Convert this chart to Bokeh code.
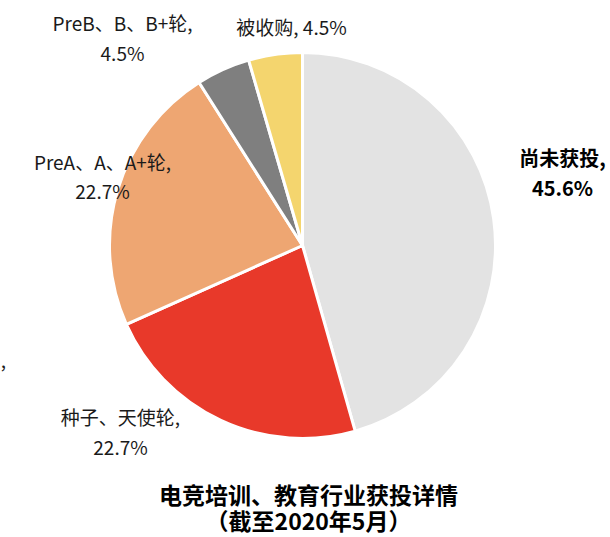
import math
from bokeh.plotting import figure
from bokeh.models import ColumnDataSource, Range1d
from bokeh.core.properties import value
from bokeh.embed import file_html
from bokeh.resources import INLINE

categories = ["尚未获投", "种子、天使轮", "PreA、A、A+轮", "PreB、B、B+轮", "被收购"]
shares = [45.6, 22.7, 22.7, 4.5, 4.5]
colors = ["#E3E3E3", "#E8392A", "#EEA672", "#7F7F7F", "#F4D56E"]
title_lines = ["电竞培训、教育行业获投详情", "（截至2020年5月）"]

W, H = 610, 537
CX, CY, R = 302, 245, 193  # pixel layout (y from top)

total = sum(shares)
starts, ends = [], []
cum = 0.0
for s in shares:
    starts.append(math.pi / 2 - 2 * math.pi * cum / total)
    cum += s
    ends.append(math.pi / 2 - 2 * math.pi * cum / total)

p = figure(width=W, height=H, output_backend="svg", toolbar_location=None,
           x_axis_location=None, y_axis_location=None, min_border=0,
           x_range=Range1d(0, W), y_range=Range1d(0, H))
p.outline_line_color = None
p.grid.visible = False
p.background_fill_color = "white"
p.border_fill_color = "white"

src = ColumnDataSource(dict(cat=categories, val=shares, color=colors,
                            start=starts, end=ends))
p.wedge(x=CX, y=H - CY, radius=R, start_angle="start", end_angle="end",
        direction="clock", fill_color="color", line_color="white",
        line_width=3, source=src)

font = value("Noto Sans CJK SC")

def label(lines, x, y, size="19px", bold=False, gap=29):
    for i, t in enumerate(lines):
        p.text(x=[x], y=[H - (y + i * gap)], text=[t], text_font=font,
               text_font_size=size, text_align="center", text_baseline="middle",
               text_color="#1a1a1a" if not bold else "#000000",
               text_font_style="bold" if bold else "normal")

pct = [f"{v:.1f}%" for v in shares]
label([categories[0] + ",", pct[0]], 562, 157, size="20px", bold=True, gap=30)
label([categories[1] + ",", pct[1]], 120, 416, gap=30)
label([categories[2] + ",", pct[2]], 102, 161, gap=29)
label([categories[3] + ",", pct[3]], 122, 22, gap=30)
label([categories[4] + ", " + pct[4]], 291, 26)
label([","], 3, 360)

label(title_lines, 308, 493, size="23px", bold=True, gap=26)

open("out.html", "w").write(file_html(p, INLINE))
